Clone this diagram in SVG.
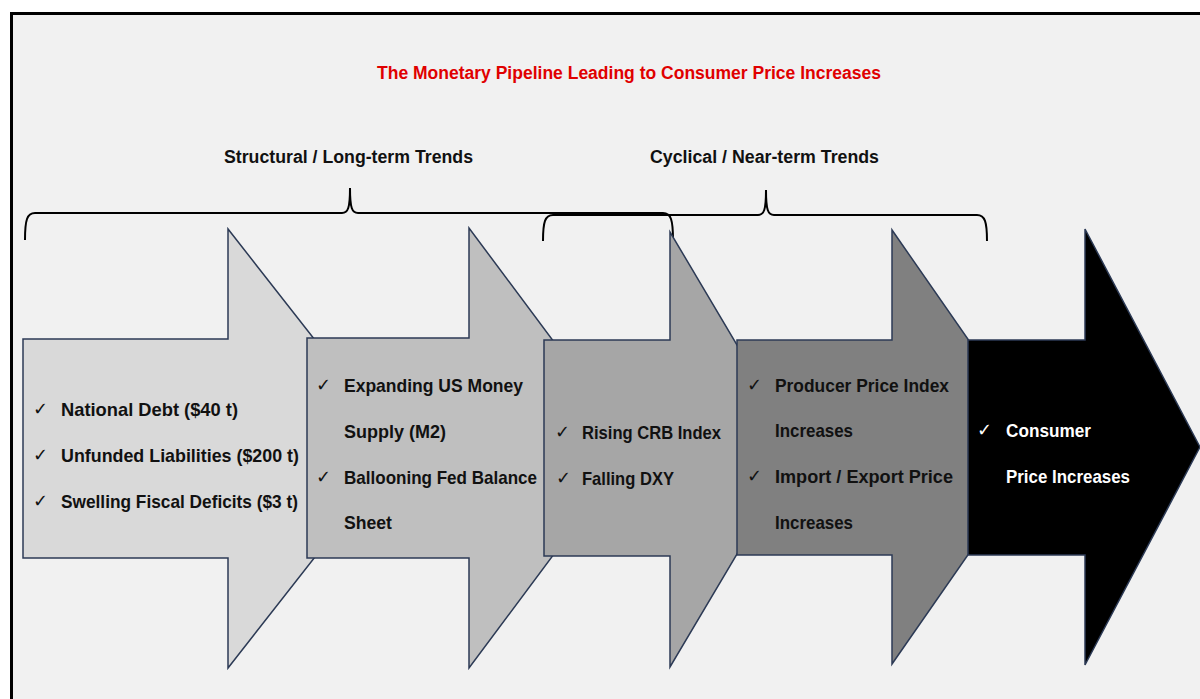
<svg xmlns="http://www.w3.org/2000/svg" width="1200" height="699" viewBox="0 0 1200 699">
  <style>
    .frame { fill: #f1f1f1; stroke: #000; stroke-width: 3; }
    .arrow { stroke: #2c3a55; stroke-width: 1.5; stroke-linejoin: miter; }
    .a1 { fill: #d9d9d9; }
    .a2 { fill: #bfbfbf; }
    .a3 { fill: #a6a6a6; }
    .a4 { fill: #808080; }
    .a5 { fill: #000000; }
    .brace { fill: none; stroke: #000; stroke-width: 2; }
    .txt { font-family: "Liberation Sans", Arial, sans-serif; font-weight: bold; font-size: 19px; fill: #111; }
    .head { font-size: 18px; }
    .title { font-family: "Liberation Sans", Arial, sans-serif; font-weight: bold; font-size: 17.5px; fill: #e00000; }
    .chk { font-family: "DejaVu Sans", sans-serif; font-size: 18px; fill: #111; }
    .white { fill: #fff; }
  </style>

  <!-- page background and frame -->
  <rect x="0" y="0" width="1200" height="699" fill="#ffffff"/>
  <rect class="frame" x="11.5" y="13.5" width="1200" height="700"/>

  <!-- headings -->
  <g id="title">
    <text class="title" x="377" y="79" textLength="504" lengthAdjust="spacingAndGlyphs">The Monetary Pipeline Leading to Consumer Price Increases</text>
  </g>
  <g id="label-structural">
    <text class="txt head" x="224" y="163" textLength="249" lengthAdjust="spacingAndGlyphs">Structural / Long-term Trends</text>
  </g>
  <g id="label-cyclical">
    <text class="txt head" x="650" y="163" textLength="229" lengthAdjust="spacingAndGlyphs">Cyclical / Near-term Trends</text>
  </g>

  <!-- curly braces grouping the stages -->
  <g id="connectors">
    <path class="brace" d="M25,240 C25,220 27,213 35,213 L342,213 C348,213 350,208 350,188 C350,208 352,213 358,213 L663,213 C671,213 673,220 673,240"/>
    <path class="brace" d="M543,241 C543,222 545,215 553,215 L758,215 C764,215 766,210 766,190 C766,210 768,215 774,215 L977,215 C985,215 987,222 987,241"/>
  </g>

  <!-- stage 1 -->
  <g id="stage-structural-debt">
    <path class="arrow a1" d="M23,339 L228,339 L228,229 L400,448.5 L228,668 L228,558 L23,558 Z"/>
    <text class="chk" x="33" y="415">✓</text>
    <text class="txt" x="61" y="416" textLength="177" lengthAdjust="spacingAndGlyphs">National Debt ($40 t)</text>
    <text class="chk" x="33" y="461">✓</text>
    <text class="txt" x="61" y="462" textLength="238" lengthAdjust="spacingAndGlyphs">Unfunded Liabilities ($200 t)</text>
    <text class="chk" x="33" y="507">✓</text>
    <text class="txt" x="61" y="508" textLength="237" lengthAdjust="spacingAndGlyphs">Swelling Fiscal Deficits ($3 t)</text>
  </g>

  <!-- stage 2 -->
  <g id="stage-money-supply">
    <path class="arrow a2" d="M307,338 L469,338 L469,228 L633,448 L469,668 L469,558 L307,558 Z"/>
    <text class="chk" x="316" y="391">✓</text>
    <text class="txt" x="344" y="392" textLength="179" lengthAdjust="spacingAndGlyphs">Expanding US Money</text>
    <text class="txt" x="344" y="438" textLength="102" lengthAdjust="spacingAndGlyphs">Supply (M2)</text>
    <text class="chk" x="316" y="483">✓</text>
    <text class="txt" x="344" y="484" textLength="193" lengthAdjust="spacingAndGlyphs">Ballooning Fed Balance</text>
    <text class="txt" x="344" y="529" textLength="48" lengthAdjust="spacingAndGlyphs">Sheet</text>
  </g>

  <!-- stage 3 -->
  <g id="stage-commodities">
    <path class="arrow a3" d="M544,340 L670,340 L670,232 L799,449.5 L670,667 L670,556 L544,556 Z"/>
    <text class="chk" x="555" y="438">✓</text>
    <text class="txt" x="582" y="439" textLength="139" lengthAdjust="spacingAndGlyphs">Rising CRB Index</text>
    <text class="chk" x="556" y="484">✓</text>
    <text class="txt" x="582" y="485" textLength="92" lengthAdjust="spacingAndGlyphs">Falling DXY</text>
  </g>

  <!-- stage 4 -->
  <g id="stage-producer-prices">
    <path class="arrow a4" d="M737,340 L892,340 L892,230 L1043,447 L892,664 L892,555 L737,555 Z"/>
    <text class="chk" x="747" y="391">✓</text>
    <text class="txt" x="775" y="392" textLength="174" lengthAdjust="spacingAndGlyphs">Producer Price Index</text>
    <text class="txt" x="775" y="437" textLength="78" lengthAdjust="spacingAndGlyphs">Increases</text>
    <text class="chk" x="747" y="482">✓</text>
    <text class="txt" x="775" y="483" textLength="178" lengthAdjust="spacingAndGlyphs">Import / Export Price</text>
    <text class="txt" x="775" y="529" textLength="78" lengthAdjust="spacingAndGlyphs">Increases</text>
  </g>

  <!-- stage 5 -->
  <g id="stage-consumer-prices">
    <path class="arrow a5" d="M968,340 L1085,340 L1085,229 L1200,447 L1085,665 L1085,555 L968,555 Z"/>
    <text class="chk white" x="977" y="436">✓</text>
    <text class="txt white" x="1006" y="437" textLength="85" lengthAdjust="spacingAndGlyphs">Consumer</text>
    <text class="txt white" x="1006" y="483" textLength="124" lengthAdjust="spacingAndGlyphs">Price Increases</text>
  </g>
</svg>
